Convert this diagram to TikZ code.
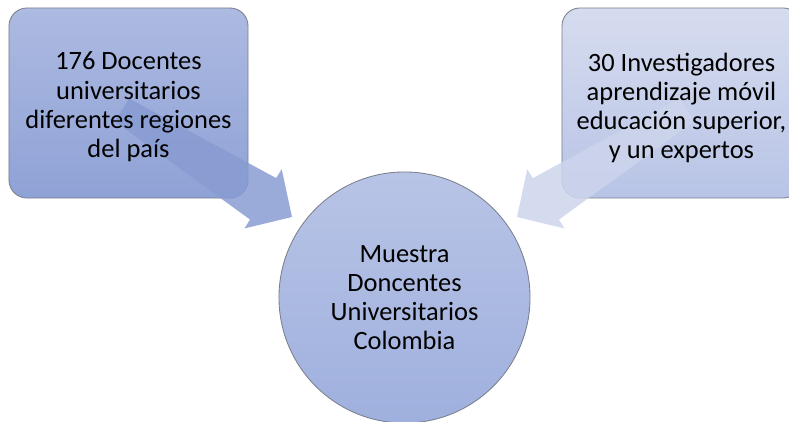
\documentclass[tikz,border=0pt]{standalone}
\usepackage{fontspec}
\setmainfont{Carlito}
\usetikzlibrary{calc}

\definecolor{boxLine}{HTML}{7A7F8C}
\definecolor{srcTop}{HTML}{ADBAE1}
\definecolor{srcBot}{HTML}{8FA2D6}
\definecolor{expTop}{HTML}{D6DCEF}
\definecolor{expBot}{HTML}{B8C4E6}
\definecolor{hubTop}{HTML}{B8C4E6}
\definecolor{hubBot}{HTML}{9FB0DE}
\definecolor{arrDark}{HTML}{889CD3}
\definecolor{arrLight}{HTML}{CDD5EC}

% one pixel of the reference
\newcommand{\pxu}{0.025cm}

\begin{document}
\begin{tikzpicture}[
  x=0.025cm,y=-0.025cm,
  srcbox/.style={draw=boxLine,line width=0.6pt,rounded corners=0.45cm,
                 minimum width=5.975cm,minimum height=4.75cm},
  boxtext/.style={font=\fontsize{18.8}{20.8}\selectfont,align=center,text=black},
  hub/.style={circle,draw=boxLine,line width=0.6pt,minimum size=6.275cm,
              top color=hubTop,bottom color=hubBot},
  convarr/.style={draw=none,fill opacity=0.85}
]
  \path[use as bounding box,clip] (0,0) rectangle (789,421);

  % centre circle
  \node[hub] (hub) at (404.5,297.5) {};

  % source boxes
  \node[srcbox,top color=srcTop,bottom color=srcBot] (doc) at (128.5,103) {};
  \node[srcbox,top color=expTop,bottom color=expBot] (inv) at (681.5,103) {};

  % converging arrows
  \coordinate (docS) at (122,110);
  \coordinate (docT) at (292,217);
  \coordinate (docB) at ($(docS)!0.83!(docT)$);
  \coordinate (invS) at (687,110);
  \coordinate (invT) at (517,217);
  \coordinate (invB) at ($(invS)!0.83!(invT)$);

  \fill[convarr,arrDark]
    ($(docS)!13.5*\pxu!90:(docT)$) -- ($(docB)!24.5*\pxu!90:(docT)$)
    -- ($(docB)!35*\pxu!90:(docT)$) -- (docT)
    -- ($(docB)!35*\pxu!-90:(docT)$) -- ($(docB)!24.5*\pxu!-90:(docT)$)
    -- ($(docS)!13.5*\pxu!-90:(docT)$) -- cycle;
  \fill[convarr,arrLight]
    ($(invS)!13.5*\pxu!90:(invT)$) -- ($(invB)!24.5*\pxu!90:(invT)$)
    -- ($(invB)!35*\pxu!90:(invT)$) -- (invT)
    -- ($(invB)!35*\pxu!-90:(invT)$) -- ($(invB)!24.5*\pxu!-90:(invT)$)
    -- ($(invS)!13.5*\pxu!-90:(invT)$) -- cycle;

  % labels
  \node[boxtext] (docL) at ($(doc)+(0,4)$) {176 Docentes\\universitarios\\diferentes regiones\\del país};
  \node[boxtext] (invL) at ($(inv)+(0,5)$) {30 Investigadores\\aprendizaje móvil\\educación superior,\\y un expertos};
  \node[boxtext] (hubL) at (hub) {Muestra\\Doncentes\\Universitarios\\Colombia};
\end{tikzpicture}
\end{document}
